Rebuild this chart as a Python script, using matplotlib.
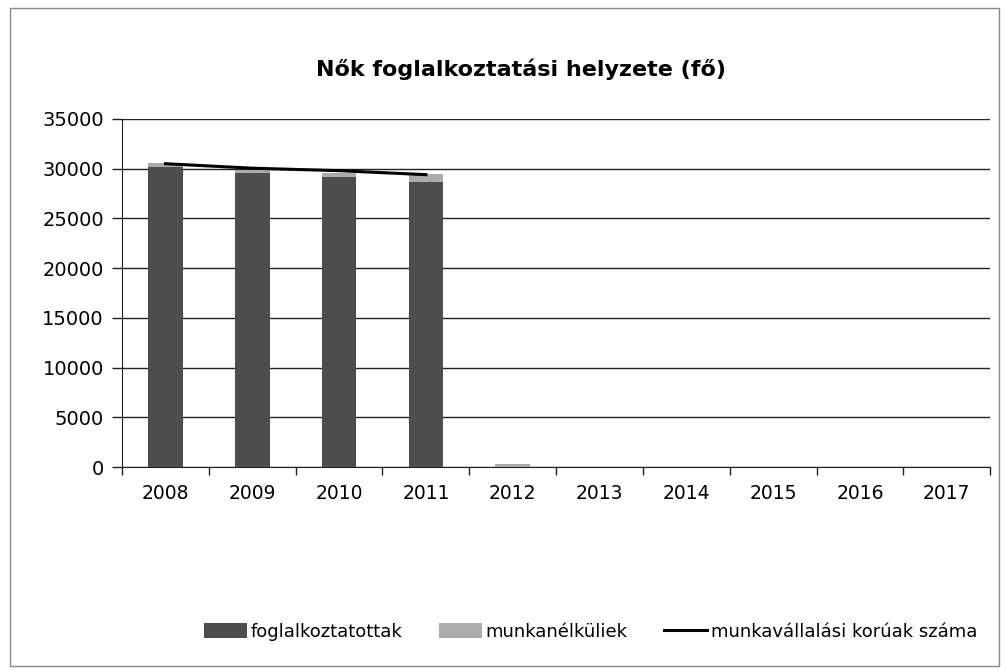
import matplotlib
matplotlib.use("Agg")
import matplotlib.pyplot as plt
import numpy as np
from matplotlib.patches import Rectangle

years = ["2008", "2009", "2010", "2011", "2012", "2013", "2014", "2015", "2016", "2017"]
foglalkoztatottak = [30200, 29550, 29200, 28700, 0, 0, 0, 0, 0, 0]
munkanelkuliek = [400, 300, 400, 800, 300, 0, 0, 0, 0, 0]
korúak_years = ["2008", "2009", "2010", "2011"]
korúak = [30500, 30050, 29800, 29400]

plt.rcParams["font.family"] = ["DejaVu Sans"]

fig = plt.figure(figsize=(10.06, 6.71), dpi=100)
ax = fig.add_axes([0.1213, 0.304, 0.863, 0.5187])

x = np.arange(len(years))
w = 0.4
b1 = ax.bar(x, foglalkoztatottak, w, color="#4d4d4d", label="foglalkoztatottak", zorder=3)
b2 = ax.bar(x, munkanelkuliek, w, bottom=foglalkoztatottak, color="#ababab",
            label="munkanélküliek", zorder=3)
kx = [years.index(y) for y in korúak_years]
(ln,) = ax.plot(kx, korúak, color="black", lw=2.2, label="munkavállalási korúak száma", zorder=4)

ax.set_xlim(-0.5, len(years) - 0.5)
ax.set_ylim(0, 35000)
ax.set_yticks(np.arange(0, 35001, 5000))
ax.yaxis.grid(True, color="#222222", lw=1.0)
ax.set_axisbelow(True)
ax.set_xticks(x)
ax.set_xticklabels(years, fontsize=13.5)
ax.set_xticks(np.arange(-0.5, len(years) + 0.5, 1), minor=True)
ax.tick_params(axis="x", which="major", length=0, pad=12)
ax.tick_params(axis="x", which="minor", length=6, width=1, color="#222222")
ax.tick_params(axis="y", labelsize=14, length=7, width=1, color="#222222", pad=6)
for s in ["top", "right"]:
    ax.spines[s].set_visible(False)
ax.spines["left"].set_color("#222222")
ax.spines["bottom"].set_color("#222222")

fig.text(0.518, 0.897, "Nők foglalkoztatási helyzete (fő)", ha="center", va="center",
         fontsize=16, fontweight="bold")

fig.legend(handles=[b1, b2, ln], loc="center", bbox_to_anchor=(0.587, 0.058), ncol=3,
           frameon=False, fontsize=13, handlelength=2.4, handleheight=0.9,
           columnspacing=2.0, handletextpad=0.2)

fig.patches.append(Rectangle((0.010, 0.008), 0.983, 0.98, transform=fig.transFigure,
                             fill=False, edgecolor="#888888", lw=1))

fig.savefig("out.png", dpi=100)
